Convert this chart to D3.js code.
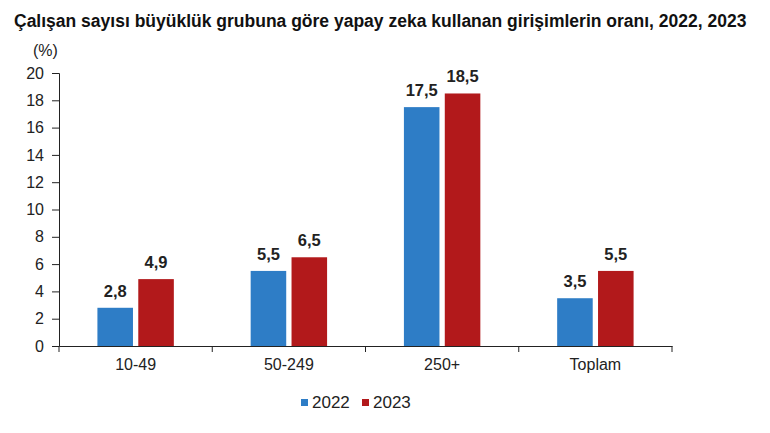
<!DOCTYPE html>
<html lang="tr">
<head>
<meta charset="UTF-8">
<title>Yapay zeka kullanan girişimler</title>
<script src="https://d3js.org/d3.v7.min.js"></script>
<style>
  body { margin: 0; background: #fff; }
  svg { font-family: "Liberation Sans", Arial, sans-serif; }
  .title { font-size: 17.5px; font-weight: bold; fill: #111; }
  .tick text { font-size: 16px; fill: #222; }
  .val { font-size: 16.5px; font-weight: bold; fill: #222; text-anchor: middle; }
  .leg { font-size: 17px; fill: #222; }
</style>
</head>
<body>
<svg width="770" height="433"></svg>
<script>
// data
const categories = ["10-49", "50-249", "250+", "Toplam"];
const years = ["2022", "2023"];
const values2022 = [2.8, 5.5, 17.5, 3.5];
const values2023 = [4.9, 6.5, 18.5, 5.5];
const yTicks = [0, 2, 4, 6, 8, 10, 12, 14, 16, 18, 20];
const colors = ["#2e7dc6", "#b2191b"];

const svg = d3.select("svg");
const plotLeft = 59, plotRight = 672, plotTop = 73, plotBottom = 346;

const x = d3.scaleBand().domain(categories).range([plotLeft, plotRight]).paddingInner(0).paddingOuter(0);
const xs = d3.scaleBand().domain(years).range([0, x.bandwidth()]).paddingInner(0.13).paddingOuter(0.94);
const y = d3.scaleLinear().domain([0, 20]).range([plotBottom, plotTop]);

// title
svg.append("text")
   .attr("class", "title")
   .attr("x", 14).attr("y", 27)
   .text("Çalışan sayısı büyüklük grubuna göre yapay zeka kullanan girişimlerin oranı, 2022, 2023");

svg.append("text")
   .attr("x", 33).attr("y", 56)
   .style("font-size", "16px").style("fill", "#222")
   .text("(%)");

// y axis
const yAxis = svg.append("g")
   .attr("transform", `translate(${plotLeft},0)`)
   .call(d3.axisLeft(y).tickValues(yTicks).tickSize(7).tickPadding(8).tickFormat(d3.format("d")));
yAxis.select(".domain").attr("stroke", "#222");
yAxis.selectAll(".tick line").attr("stroke", "#222");

// x axis
const xAxis = svg.append("g")
   .attr("transform", `translate(0,${plotBottom})`)
   .call(d3.axisBottom(x).tickSize(0).tickPadding(13));
xAxis.select(".domain").attr("stroke", "#222");

// category separators on x axis
svg.append("g").selectAll("line")
   .data(categories.map(c => x(c)).concat([x.range()[1]]))
   .join("line")
   .attr("x1", d => d).attr("x2", d => d)
   .attr("y1", plotBottom).attr("y2", plotBottom + 6)
   .attr("stroke", "#222");

// bars
const series = [values2022, values2023];
const groups = svg.append("g").selectAll("g")
   .data(categories)
   .join("g")
   .attr("transform", c => `translate(${x(c)},0)`);

years.forEach((yr, s) => {
  groups.append("rect")
     .attr("x", xs(yr))
     .attr("width", xs.bandwidth())
     .attr("y", (c, i) => y(series[s][i]))
     .attr("height", (c, i) => y(0) - y(series[s][i]))
     .attr("fill", colors[s]);

  groups.append("text")
     .attr("class", "val")
     .attr("x", xs(yr) + xs.bandwidth() / 2)
     .attr("y", (c, i) => y(series[s][i]) - 11)
     .text((c, i) => d3.format(".1f")(series[s][i]).replace(".", ","));
});

// legend
const legend = svg.append("g").attr("transform", "translate(301,399)");
years.forEach((yr, s) => {
  const g = legend.append("g").attr("transform", `translate(${s * 61},0)`);
  g.append("rect").attr("width", 7).attr("height", 7).attr("fill", colors[s]);
  g.append("text").attr("class", "leg").attr("x", 11).attr("y", 9).text(yr);
});
</script>
</body>
</html>
